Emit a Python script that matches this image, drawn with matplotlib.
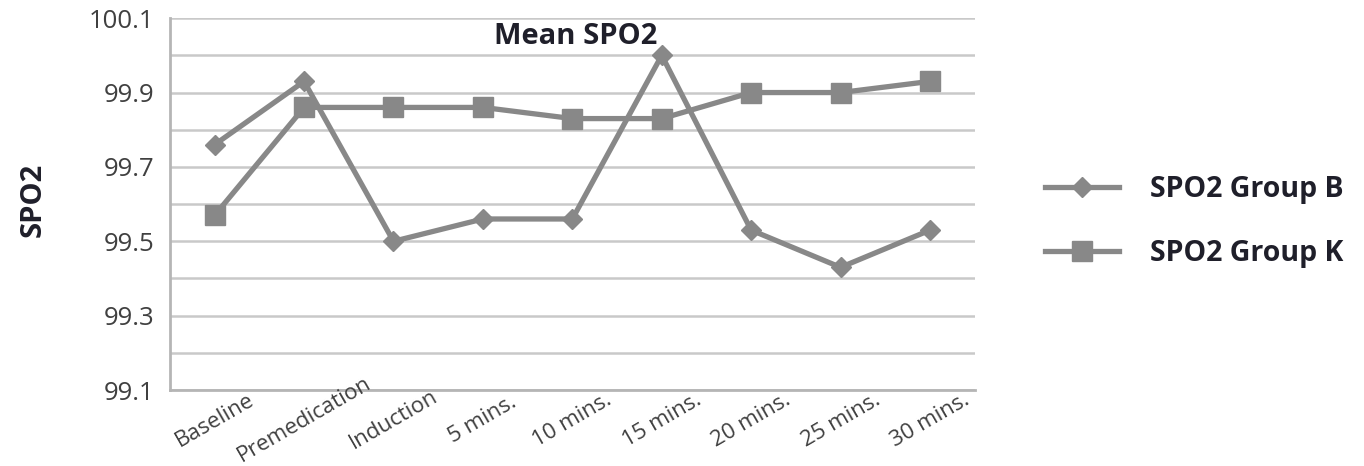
import matplotlib
matplotlib.use("Agg")
import matplotlib.pyplot as plt
from matplotlib.ticker import FixedLocator

plt.rcParams['font.family'] = ['Open Sans', 'DejaVu Sans']

categories = ["Baseline", "Premedication", "Induction", "5 mins.", "10 mins.",
              "15 mins.", "20 mins.", "25 mins.", "30 mins."]
group_b = [99.76, 99.93, 99.50, 99.56, 99.56, 100.00, 99.53, 99.43, 99.53]
group_k = [99.57, 99.86, 99.86, 99.86, 99.83, 99.83, 99.90, 99.90, 99.93]
y_labels = [99.1, 99.3, 99.5, 99.7, 99.9, 100.1]
y_minor = [99.2, 99.4, 99.6, 99.8, 100.0]

line_col = '#888888'
grid_col = '#c9c9c9'
text_col = '#404040'
dark_col = '#1f1f2a'

fig = plt.figure(figsize=(13.64, 4.66), dpi=100)
ax = fig.add_axes([0.1246, 0.163, 0.590, 0.798])

x = list(range(len(categories)))
ax.plot(x, group_b, color=line_col, lw=3.8, marker='D', markersize=10,
        label='SPO2 Group B', zorder=3)
ax.plot(x, group_k, color=line_col, lw=3.8, marker='s', markersize=15,
        label='SPO2 Group K', zorder=3)

ax.set_xlim(-0.5, len(categories) - 0.5)
ax.set_ylim(99.1, 100.1)
ax.yaxis.set_major_locator(FixedLocator(y_labels))
ax.yaxis.set_minor_locator(FixedLocator(y_minor))
ax.yaxis.set_major_formatter(matplotlib.ticker.FormatStrFormatter('%.1f'))
ax.grid(True, which='both', axis='y', color=grid_col, lw=1.8, zorder=0)
ax.tick_params(axis='y', which='both', length=0, pad=11, labelsize=18.5,
               labelcolor=text_col)

ax.set_xticks(x)
ax.set_xticklabels([])
ax.tick_params(axis='x', length=0)
for i, lab in enumerate(categories):
    ax.annotate(lab, xy=(i, 99.1), xytext=(0, -30), textcoords='offset pixels',
                ha='center', va='center', rotation=30, rotation_mode='anchor',
                fontsize=16, color=text_col, annotation_clip=False)

for s in ['top', 'right']:
    ax.spines[s].set_visible(False)
for s in ['left', 'bottom']:
    ax.spines[s].set_color('#b5b5b5')
    ax.spines[s].set_linewidth(2)

ax.text(0.504, 0.952, 'Mean SPO2', transform=ax.transAxes, ha='center',
        va='center', fontsize=21, fontweight='bold', color=dark_col)
fig.text(0.024, 0.57, 'SPO2', rotation=90, ha='center', va='center',
         fontsize=21, fontweight='bold', color=dark_col)

leg = fig.legend(loc='center left', bbox_to_anchor=(0.747, 0.525), frameon=False,
                 handlelength=2.6, handletextpad=1.1, labelspacing=1.25,
                 prop={'weight': 'bold', 'size': 20.5})
for t in leg.get_texts():
    t.set_color(dark_col)

fig.savefig('out.png', dpi=100)
